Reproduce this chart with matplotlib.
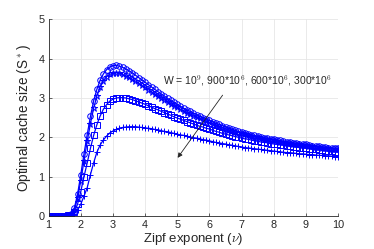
import numpy as np
import matplotlib.pyplot as plt
import matplotlib

matplotlib.rcParams['font.family'] = ['Liberation Sans', 'DejaVu Sans']
matplotlib.rcParams['mathtext.fontset'] = 'cm'

# Zipf exponent, step 0.1 from 1 to 10
nu = np.round(np.arange(1.0, 10.05, 0.1), 1)

# optimal cache size for W = 1e9
s_1000 = [0.00, 0.00, 0.00, 0.00, 0.00, 0.00, 0.01, 0.05, 0.20, 0.55,
          1.05, 1.58, 2.07, 2.53, 2.93, 3.22, 3.45, 3.61, 3.72, 3.79,
          3.82, 3.83, 3.81, 3.78, 3.74, 3.69, 3.64, 3.58, 3.52, 3.46,
          3.40, 3.34, 3.28, 3.22, 3.16, 3.10, 3.05, 2.99, 2.94, 2.89,
          2.84, 2.79, 2.74, 2.70, 2.66, 2.62, 2.58, 2.54, 2.50, 2.47,
          2.43, 2.40, 2.36, 2.33, 2.30, 2.27, 2.24, 2.21, 2.18, 2.15,
          2.13, 2.11, 2.09, 2.07, 2.05, 2.03, 2.01, 1.99, 1.98, 1.96,
          1.95, 1.93, 1.92, 1.90, 1.89, 1.88, 1.86, 1.85, 1.84, 1.83,
          1.82, 1.80, 1.79, 1.78, 1.77, 1.76, 1.75, 1.74, 1.73, 1.72,
          1.72]
# W = 900e6
s_900 = [0.00, 0.00, 0.00, 0.00, 0.00, 0.00, 0.01, 0.04, 0.15, 0.45,
         0.90, 1.40, 1.90, 2.35, 2.74, 3.05, 3.28, 3.44, 3.54, 3.60,
         3.63, 3.64, 3.63, 3.60, 3.57, 3.53, 3.48, 3.43, 3.38, 3.32,
         3.27, 3.21, 3.16, 3.10, 3.05, 3.00, 2.95, 2.90, 2.85, 2.80,
         2.76, 2.71, 2.67, 2.63, 2.59, 2.55, 2.51, 2.48, 2.45, 2.41,
         2.38, 2.35, 2.31, 2.28, 2.25, 2.22, 2.19, 2.17, 2.14, 2.12,
         2.10, 2.08, 2.06, 2.04, 2.02, 2.00, 1.98, 1.96, 1.95, 1.93,
         1.92, 1.91, 1.89, 1.88, 1.86, 1.85, 1.84, 1.83, 1.82, 1.81,
         1.80, 1.78, 1.77, 1.76, 1.75, 1.74, 1.73, 1.72, 1.71, 1.70,
         1.69]
# W = 600e6
s_600 = [0.00, 0.00, 0.00, 0.00, 0.00, 0.00, 0.01, 0.03, 0.10, 0.30,
         0.62, 1.00, 1.35, 1.72, 2.05, 2.32, 2.54, 2.71, 2.83, 2.92,
         2.97, 3.00, 3.01, 3.01, 3.00, 2.98, 2.96, 2.93, 2.90, 2.87,
         2.84, 2.80, 2.77, 2.73, 2.70, 2.66, 2.63, 2.59, 2.56, 2.52,
         2.49, 2.46, 2.43, 2.40, 2.37, 2.34, 2.31, 2.28, 2.26, 2.23,
         2.21, 2.18, 2.15, 2.13, 2.10, 2.08, 2.06, 2.04, 2.02, 2.00,
         1.98, 1.96, 1.95, 1.93, 1.91, 1.90, 1.88, 1.87, 1.86, 1.84,
         1.83, 1.82, 1.81, 1.80, 1.79, 1.77, 1.76, 1.75, 1.74, 1.73,
         1.72, 1.71, 1.70, 1.69, 1.68, 1.67, 1.66, 1.65, 1.64, 1.63,
         1.62]
# W = 300e6
s_300 = [0.00, 0.00, 0.00, 0.00, 0.00, 0.00, 0.00, 0.02, 0.06, 0.15,
         0.30, 0.50, 0.72, 1.05, 1.35, 1.62, 1.80, 1.93, 2.03, 2.11,
         2.16, 2.20, 2.23, 2.25, 2.26, 2.27, 2.27, 2.27, 2.26, 2.25,
         2.24, 2.23, 2.22, 2.20, 2.19, 2.17, 2.15, 2.14, 2.12, 2.10,
         2.08, 2.06, 2.05, 2.03, 2.01, 1.99, 1.98, 1.96, 1.94, 1.93,
         1.91, 1.89, 1.87, 1.86, 1.84, 1.83, 1.81, 1.80, 1.78, 1.77,
         1.75, 1.74, 1.73, 1.72, 1.71, 1.70, 1.69, 1.68, 1.67, 1.66,
         1.65, 1.64, 1.63, 1.62, 1.61, 1.61, 1.60, 1.59, 1.58, 1.58,
         1.57, 1.56, 1.56, 1.55, 1.54, 1.54, 1.53, 1.53, 1.52, 1.51,
         1.51]

series = [s_1000, s_900, s_600, s_300]
markers = ['o', '*', 's', '+']

fig = plt.figure(figsize=(3.74, 2.49), dpi=100)
ax = fig.add_axes([0.130, 0.133, 0.774, 0.789])

for s, m in zip(series, markers):
    ax.plot(nu, s, color='#0000ff', lw=0.9, marker=m, ms=4 if m != '*' else 4.5,
            mfc='none', mec='#0000ff', mew=0.7)

ax.set_xlim(1, 10)
ax.set_ylim(0, 5)
ax.set_xticks(range(1, 11))
ax.set_yticks(range(0, 6))
ax.grid(True, color='#e6e6e6', lw=0.6)
ax.set_axisbelow(True)
for side in ['top', 'right']:
    ax.spines[side].set_visible(False)
for side in ['left', 'bottom']:
    ax.spines[side].set_color('#262626')
    ax.spines[side].set_linewidth(0.6)
ax.tick_params(direction='in', length=2.5, width=0.5, colors='#262626', labelsize=7.8, pad=3)

ax.set_xlabel(r'Zipf exponent ($\nu$)', fontsize=9.5, color='#262626', labelpad=0.5)
ax.set_ylabel(r'Optimal cache size (S$^*$)', fontsize=9.8, color='#262626', labelpad=4)

ax.annotate('', xy=(4.96, 1.42), xytext=(6.46, 3.13),
            arrowprops=dict(arrowstyle='-|>', color='#262626', lw=0.6, mutation_scale=7))
ax.text(4.56, 3.45, r'W = 10$^9$, 900*10$^6$, 600*10$^6$, 300*10$^6$',
        fontsize=7.5, color='#262626', va='center', ha='left')

fig.savefig('out.png', dpi=100)
